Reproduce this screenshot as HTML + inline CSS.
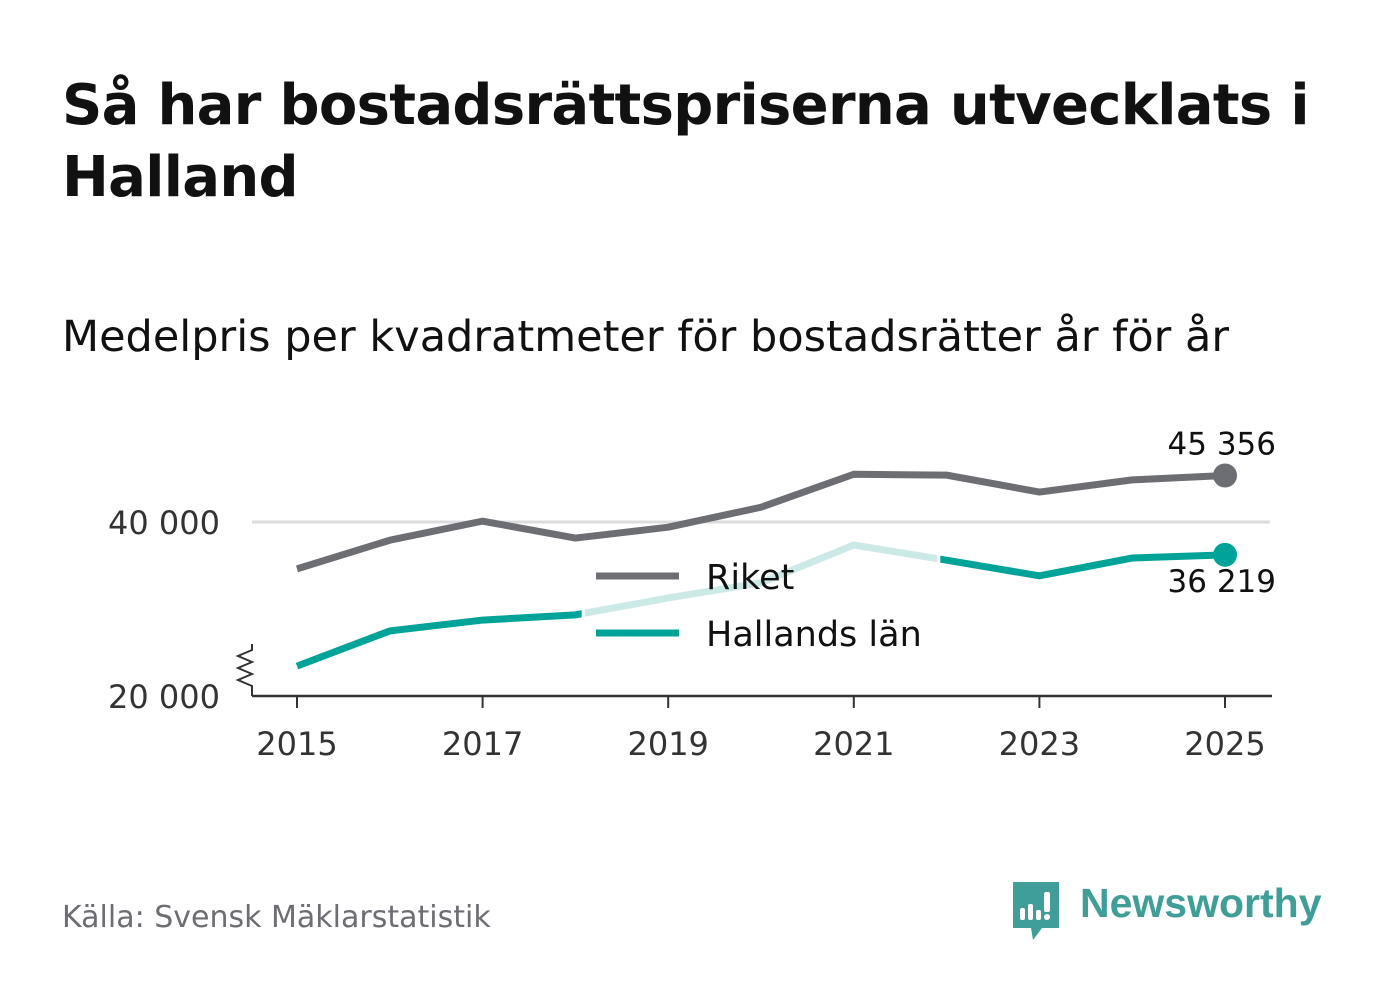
<!DOCTYPE html>
<html><head><meta charset="utf-8"><style>
body{margin:0;width:1382px;height:999px;background:#fff;font-family:"DejaVu Sans","Liberation Sans",sans-serif;overflow:hidden;position:relative}
h1{position:absolute;left:62px;top:70px;margin:0;font-size:56px;line-height:72px;font-weight:bold;color:#111;letter-spacing:-0.7px}
.sub{position:absolute;left:62px;top:312px;font-size:43px;color:#111;letter-spacing:0px;white-space:nowrap}
.src{position:absolute;left:62px;top:900px;font-size:30px;color:#6d6d74}
</style></head><body>
<h1>Så har bostadsrättspriserna utvecklats i<br>Halland</h1>
<div class="sub">Medelpris per kvadratmeter för bostadsrätter år för år</div>
<svg id="c" width="1382" height="999" style="position:absolute;left:0;top:0"></svg>
<div class="src">Källa: Svensk Mäklarstatistik</div>
<div style="position:absolute;left:1010px;top:880px;">
<svg width="52" height="62"><path d="M3 2h46v46H32l-9 12-2-12H3z" fill="#3f9e98"/><rect x="10" y="28" width="5" height="12" rx="2" fill="#fff"/><rect x="18" y="24" width="5" height="16" rx="2" fill="#fff"/><rect x="26" y="30" width="5" height="10" rx="2" fill="#fff"/><rect x="34" y="12" width="6" height="20" rx="2" fill="#fff"/><circle cx="37" cy="37" r="3" fill="#fff"/></svg>
<span style="position:absolute;left:70px;top:0;font-size:41px;font-weight:bold;color:#3f9e98;font-family:'Liberation Sans',sans-serif">Newsworthy</span></div>
<script>
const years=[2015,2016,2017,2018,2019,2020,2021,2022,2023,2024,2025];
const riket=[34600,37900,40100,38150,39400,41700,45500,45400,43450,44850,45356];
const halland=[23400,27450,28700,29300,31250,33000,37350,35600,33800,35850,36219];
const yTicks=[20000,40000];
const xTicks=[2015,2017,2019,2021,2023,2025];
const NS="http://www.w3.org/2000/svg",svg=document.getElementById('c');
const X=y=>297+(y-2015)*92.8, Y=v=>522-(v-40000)*0.00868;
function el(t,a,p){const e=document.createElementNS(NS,t);for(const k in a)e.setAttribute(k,a[k]);(p||svg).appendChild(e);return e;}
const fmt=v=>String(v).replace(/\B(?=(\d{3})+(?!\d))/g,' ');
const defs=el('defs',{});
const c1=el('clipPath',{id:'out'},defs);
el('rect',{x:0,y:0,width:X(2018.1)-3,height:999},c1);el('rect',{x:X(2021.9)+3,y:0,width:999,height:999},c1);
const c2=el('clipPath',{id:'in'},defs);
el('rect',{x:X(2018.1),y:0,width:X(2021.9)-X(2018.1),height:999},c2);
let g=el('line',{x1:252,x2:1270,y1:Y(40000),y2:Y(40000),stroke:'#dcdcdc','stroke-width':3});

yTicks.forEach(v=>{const t=el('text',{x:220,y:(v==20000?696:Y(v))+12,'text-anchor':'end','font-size':32,fill:'#333'});t.textContent=fmt(v);
});
let ax=el('line',{x1:252,x2:1272,y1:696,y2:696,stroke:'#333','stroke-width':2.5});

let br=el('path',{d:'M252 644 v6 l-14 6 l14 6 l-14 6 l14 6 l-14 6 l14 6 v10',fill:'none',stroke:'#333','stroke-width':2});

xTicks.forEach(y=>{el('line',{x1:X(y),x2:X(y),y1:696,y2:708,stroke:'#333','stroke-width':2});
const t=el('text',{x:X(y),y:755,'text-anchor':'middle','font-size':32,fill:'#333'});t.textContent=y;
});
const pts=a=>a.map((v,i)=>X(years[i])+','+Y(v)).join(' ');
let r=el('polyline',{points:pts(riket),fill:'none',stroke:'#6d6d74','stroke-width':7,'stroke-linejoin':'round'});

let h1=el('polyline',{points:pts(halland),fill:'none',stroke:'#00a398','stroke-width':7,'clip-path':'url(#out)'});

let h2=el('polyline',{points:pts(halland),fill:'none',stroke:'#cbeae7','stroke-width':7,'clip-path':'url(#in)'});

const L=years.length-1;
let d1=el('circle',{cx:X(years[L]),cy:Y(riket[L]),r:12,fill:'#6d6d74'});
let d2=el('circle',{cx:X(years[L]),cy:Y(halland[L]),r:12,fill:'#00a398'});
let l1=el('text',{x:1276,y:Y(riket[L])-21,'text-anchor':'end','font-size':31,fill:'#111'});l1.textContent=fmt(riket[L]);

let l2=el('text',{x:1276,y:Y(halland[L])+37,'text-anchor':'end','font-size':31,fill:'#111'});l2.textContent=fmt(halland[L]);

[['Riket','#6d6d74',576],['Hallands län','#00a398',633]].forEach(([n,c,y])=>{
let ln=el('line',{x1:596,x2:679,y1:y,y2:y,stroke:c,'stroke-width':7});
let t=el('text',{x:706,y:y+13,'font-size':35,fill:'#111'});t.textContent=n;});
</script>
</body></html>
